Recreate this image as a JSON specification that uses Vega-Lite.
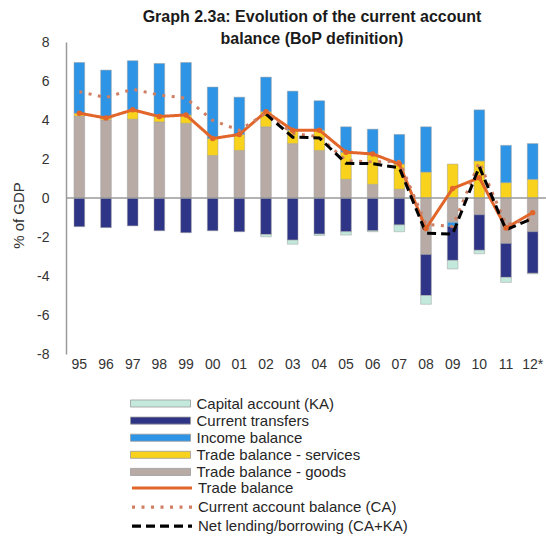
{
  "$schema": "https://vega.github.io/schema/vega-lite/v6.json",
  "autosize": {"type": "none"},
  "padding": {"left": 66, "top": 42, "right": 0, "bottom": 182},
  "width": 480,
  "height": 312,
  "background": "white",
  "config": {
    "font": "Liberation Sans",
    "view": {"stroke": null},
    "locale": {"number": {"decimal": ".", "thousands": ",", "grouping": [3], "currency": ["$", ""], "minus": "-"}},
    "axis": {"labelFont": "Liberation Sans", "titleFont": "Liberation Sans"},
    "legend": {"labelFont": "Liberation Sans"}
  },
  "title": {
    "text": ["Graph 2.3a: Evolution of the current account", "balance (BoP definition)"],
    "fontSize": 16,
    "fontWeight": "bold",
    "color": "#1a1a1a",
    "anchor": "middle",
    "frame": "group",
    "lineHeight": 22,
    "offset": -12,
    "dx": 6
  },
  "datasets": {
    "bars": [
      {"yr": "95", "series": "\u00a0\u00a0Trade balance - goods", "ord": 1, "value": 4.2},
      {"yr": "95", "series": "\u00a0\u00a0Trade balance - services", "ord": 2, "value": 0.15},
      {"yr": "95", "series": "Income balance", "ord": 3, "value": 2.6},
      {"yr": "95", "series": "Current transfers", "ord": 4, "value": -1.47},
      {"yr": "96", "series": "\u00a0\u00a0Trade balance - goods", "ord": 1, "value": 4.0},
      {"yr": "96", "series": "\u00a0\u00a0Trade balance - services", "ord": 2, "value": 0.1},
      {"yr": "96", "series": "Income balance", "ord": 3, "value": 2.46},
      {"yr": "96", "series": "Current transfers", "ord": 4, "value": -1.52},
      {"yr": "97", "series": "\u00a0\u00a0Trade balance - goods", "ord": 1, "value": 4.04},
      {"yr": "97", "series": "\u00a0\u00a0Trade balance - services", "ord": 2, "value": 0.48},
      {"yr": "97", "series": "Income balance", "ord": 3, "value": 2.52},
      {"yr": "97", "series": "Current transfers", "ord": 4, "value": -1.43},
      {"yr": "98", "series": "\u00a0\u00a0Trade balance - goods", "ord": 1, "value": 3.9},
      {"yr": "98", "series": "\u00a0\u00a0Trade balance - services", "ord": 2, "value": 0.28},
      {"yr": "98", "series": "Income balance", "ord": 3, "value": 2.72},
      {"yr": "98", "series": "Current transfers", "ord": 4, "value": -1.68},
      {"yr": "99", "series": "\u00a0\u00a0Trade balance - goods", "ord": 1, "value": 3.83},
      {"yr": "99", "series": "\u00a0\u00a0Trade balance - services", "ord": 2, "value": 0.43},
      {"yr": "99", "series": "Income balance", "ord": 3, "value": 2.69},
      {"yr": "99", "series": "Current transfers", "ord": 4, "value": -1.78},
      {"yr": "00", "series": "\u00a0\u00a0Trade balance - goods", "ord": 1, "value": 2.18},
      {"yr": "00", "series": "\u00a0\u00a0Trade balance - services", "ord": 2, "value": 0.87},
      {"yr": "00", "series": "Income balance", "ord": 3, "value": 2.64},
      {"yr": "00", "series": "Current transfers", "ord": 4, "value": -1.68},
      {"yr": "01", "series": "\u00a0\u00a0Trade balance - goods", "ord": 1, "value": 2.44},
      {"yr": "01", "series": "\u00a0\u00a0Trade balance - services", "ord": 2, "value": 0.82},
      {"yr": "01", "series": "Income balance", "ord": 3, "value": 1.91},
      {"yr": "01", "series": "Current transfers", "ord": 4, "value": -1.73},
      {"yr": "02", "series": "\u00a0\u00a0Trade balance - goods", "ord": 1, "value": 3.65},
      {"yr": "02", "series": "\u00a0\u00a0Trade balance - services", "ord": 2, "value": 0.78},
      {"yr": "02", "series": "Income balance", "ord": 3, "value": 1.77},
      {"yr": "02", "series": "Current transfers", "ord": 4, "value": -1.87},
      {"yr": "02", "series": "Capital account (KA)", "ord": 5, "value": -0.12},
      {"yr": "03", "series": "\u00a0\u00a0Trade balance - goods", "ord": 1, "value": 2.79},
      {"yr": "03", "series": "\u00a0\u00a0Trade balance - services", "ord": 2, "value": 0.69},
      {"yr": "03", "series": "Income balance", "ord": 3, "value": 2.0},
      {"yr": "03", "series": "Current transfers", "ord": 4, "value": -2.16},
      {"yr": "03", "series": "Capital account (KA)", "ord": 5, "value": -0.21},
      {"yr": "04", "series": "\u00a0\u00a0Trade balance - goods", "ord": 1, "value": 2.44},
      {"yr": "04", "series": "\u00a0\u00a0Trade balance - services", "ord": 2, "value": 1.04},
      {"yr": "04", "series": "Income balance", "ord": 3, "value": 1.51},
      {"yr": "04", "series": "Current transfers", "ord": 4, "value": -1.85},
      {"yr": "04", "series": "Capital account (KA)", "ord": 5, "value": -0.07},
      {"yr": "05", "series": "\u00a0\u00a0Trade balance - goods", "ord": 1, "value": 0.96},
      {"yr": "05", "series": "\u00a0\u00a0Trade balance - services", "ord": 2, "value": 1.39},
      {"yr": "05", "series": "Income balance", "ord": 3, "value": 1.3},
      {"yr": "05", "series": "Current transfers", "ord": 4, "value": -1.73},
      {"yr": "05", "series": "Capital account (KA)", "ord": 5, "value": -0.17},
      {"yr": "06", "series": "\u00a0\u00a0Trade balance - goods", "ord": 1, "value": 0.7},
      {"yr": "06", "series": "\u00a0\u00a0Trade balance - services", "ord": 2, "value": 1.56},
      {"yr": "06", "series": "Income balance", "ord": 3, "value": 1.27},
      {"yr": "06", "series": "Current transfers", "ord": 4, "value": -1.68},
      {"yr": "06", "series": "Capital account (KA)", "ord": 5, "value": -0.05},
      {"yr": "07", "series": "\u00a0\u00a0Trade balance - goods", "ord": 1, "value": 0.45},
      {"yr": "07", "series": "\u00a0\u00a0Trade balance - services", "ord": 2, "value": 1.29},
      {"yr": "07", "series": "Income balance", "ord": 3, "value": 1.52},
      {"yr": "07", "series": "Current transfers", "ord": 4, "value": -1.38},
      {"yr": "07", "series": "Capital account (KA)", "ord": 5, "value": -0.35},
      {"yr": "08", "series": "\u00a0\u00a0Trade balance - goods", "ord": 1, "value": -2.9},
      {"yr": "08", "series": "\u00a0\u00a0Trade balance - services", "ord": 2, "value": 1.33},
      {"yr": "08", "series": "Income balance", "ord": 3, "value": 2.32},
      {"yr": "08", "series": "Current transfers", "ord": 4, "value": -2.1},
      {"yr": "08", "series": "Capital account (KA)", "ord": 5, "value": -0.45},
      {"yr": "09", "series": "\u00a0\u00a0Trade balance - goods", "ord": 1, "value": -1.25},
      {"yr": "09", "series": "\u00a0\u00a0Trade balance - services", "ord": 2, "value": 1.74},
      {"yr": "09", "series": "Income balance", "ord": 3, "value": -0.2},
      {"yr": "09", "series": "Current transfers", "ord": 4, "value": -1.75},
      {"yr": "09", "series": "Capital account (KA)", "ord": 5, "value": -0.44},
      {"yr": "10", "series": "\u00a0\u00a0Trade balance - goods", "ord": 1, "value": -0.86},
      {"yr": "10", "series": "\u00a0\u00a0Trade balance - services", "ord": 2, "value": 1.9},
      {"yr": "10", "series": "Income balance", "ord": 3, "value": 2.62},
      {"yr": "10", "series": "Current transfers", "ord": 4, "value": -1.82},
      {"yr": "10", "series": "Capital account (KA)", "ord": 5, "value": -0.18},
      {"yr": "11", "series": "\u00a0\u00a0Trade balance - goods", "ord": 1, "value": -2.33},
      {"yr": "11", "series": "\u00a0\u00a0Trade balance - services", "ord": 2, "value": 0.79},
      {"yr": "11", "series": "Income balance", "ord": 3, "value": 1.91},
      {"yr": "11", "series": "Current transfers", "ord": 4, "value": -1.74},
      {"yr": "11", "series": "Capital account (KA)", "ord": 5, "value": -0.26},
      {"yr": "12*", "series": "\u00a0\u00a0Trade balance - goods", "ord": 1, "value": -1.73},
      {"yr": "12*", "series": "\u00a0\u00a0Trade balance - services", "ord": 2, "value": 0.96},
      {"yr": "12*", "series": "Income balance", "ord": 3, "value": 1.83},
      {"yr": "12*", "series": "Current transfers", "ord": 4, "value": -2.13},
      {"yr": "12*", "series": "Capital account (KA)", "ord": 5, "value": -0.03}
    ],
    "lines": [
      {"yr": "95", "series": "Trade balance", "value": 4.35},
      {"yr": "96", "series": "Trade balance", "value": 4.1},
      {"yr": "97", "series": "Trade balance", "value": 4.52},
      {"yr": "98", "series": "Trade balance", "value": 4.18},
      {"yr": "99", "series": "Trade balance", "value": 4.26},
      {"yr": "00", "series": "Trade balance", "value": 3.05},
      {"yr": "01", "series": "Trade balance", "value": 3.26},
      {"yr": "02", "series": "Trade balance", "value": 4.43},
      {"yr": "03", "series": "Trade balance", "value": 3.48},
      {"yr": "04", "series": "Trade balance", "value": 3.48},
      {"yr": "05", "series": "Trade balance", "value": 2.35},
      {"yr": "06", "series": "Trade balance", "value": 2.26},
      {"yr": "07", "series": "Trade balance", "value": 1.74},
      {"yr": "08", "series": "Trade balance", "value": -1.57},
      {"yr": "09", "series": "Trade balance", "value": 0.49},
      {"yr": "10", "series": "Trade balance", "value": 1.04},
      {"yr": "11", "series": "Trade balance", "value": -1.54},
      {"yr": "12*", "series": "Trade balance", "value": -0.75},
      {"yr": "95", "series": "Current account balance (CA)", "value": 5.45},
      {"yr": "96", "series": "Current account balance (CA)", "value": 5.15},
      {"yr": "97", "series": "Current account balance (CA)", "value": 5.58},
      {"yr": "98", "series": "Current account balance (CA)", "value": 5.28},
      {"yr": "99", "series": "Current account balance (CA)", "value": 5.12},
      {"yr": "00", "series": "Current account balance (CA)", "value": 3.98},
      {"yr": "01", "series": "Current account balance (CA)", "value": 3.47},
      {"yr": "02", "series": "Current account balance (CA)", "value": 4.35},
      {"yr": "03", "series": "Current account balance (CA)", "value": 3.32},
      {"yr": "04", "series": "Current account balance (CA)", "value": 3.14},
      {"yr": "05", "series": "Current account balance (CA)", "value": 1.92},
      {"yr": "06", "series": "Current account balance (CA)", "value": 1.85},
      {"yr": "07", "series": "Current account balance (CA)", "value": 1.88},
      {"yr": "08", "series": "Current account balance (CA)", "value": -1.35},
      {"yr": "09", "series": "Current account balance (CA)", "value": -1.46},
      {"yr": "10", "series": "Current account balance (CA)", "value": 1.84},
      {"yr": "11", "series": "Current account balance (CA)", "value": -1.37},
      {"yr": "12*", "series": "Current account balance (CA)", "value": -1.05},
      {"yr": "02", "series": "Net lending/borrowing (CA+KA)", "value": 4.3},
      {"yr": "03", "series": "Net lending/borrowing (CA+KA)", "value": 3.12},
      {"yr": "04", "series": "Net lending/borrowing (CA+KA)", "value": 3.08},
      {"yr": "05", "series": "Net lending/borrowing (CA+KA)", "value": 1.78},
      {"yr": "06", "series": "Net lending/borrowing (CA+KA)", "value": 1.76},
      {"yr": "07", "series": "Net lending/borrowing (CA+KA)", "value": 1.55},
      {"yr": "08", "series": "Net lending/borrowing (CA+KA)", "value": -1.8},
      {"yr": "09", "series": "Net lending/borrowing (CA+KA)", "value": -1.85},
      {"yr": "10", "series": "Net lending/borrowing (CA+KA)", "value": 1.6},
      {"yr": "11", "series": "Net lending/borrowing (CA+KA)", "value": -1.63},
      {"yr": "12*", "series": "Net lending/borrowing (CA+KA)", "value": -1.05}
    ]
  },
  "layer": [
    {
      "data": {"name": "bars"},
      "mark": {"type": "bar", "stroke": "#a0a0a0", "strokeWidth": 0.7, "strokeOpacity": 0.7},
      "encoding": {
        "x": {
          "field": "yr", "type": "nominal", "title": null,
          "scale": {"type": "band", "domain": ["95","96","97","98","99","00","01","02","03","04","05","06","07","08","09","10","11","12*"], "paddingInner": 0.6, "paddingOuter": 0.3},
          "axis": {"orient": "bottom", "domain": false, "ticks": false, "labelAngle": 0, "labelFontSize": 14, "labelColor": "#333333", "labelPadding": 3}
        },
        "y": {
          "field": "value", "type": "quantitative", "stack": "zero", "title": "% of GDP",
          "scale": {"domain": [-8, 8], "nice": false},
          "axis": {"values": [-8,-6,-4,-2,0,2,4,6,8], "tickCount": 20, "labelOverlap": false, "grid": false, "ticks": false, "domainColor": "#9a9a9a", "domainWidth": 1.5, "labelFontSize": 14, "labelColor": "#333333", "labelPadding": 17, "titleFontSize": 15, "titleFontWeight": "normal", "titleColor": "#333333", "titleX": -48, "titleY": 173, "titleAngle": 270, "titleAlign": "center", "titleBaseline": "middle"}
        },
        "order": {"field": "ord", "type": "quantitative"},
        "fill": {
          "field": "series", "type": "nominal",
          "scale": {
            "domain": ["Capital account (KA)", "Current transfers", "Income balance", "\u00a0\u00a0Trade balance - services", "\u00a0\u00a0Trade balance - goods"],
            "range": ["#c3e9dd", "#2f3586", "#2e95e6", "#f8d21c", "#b8aba6"]
          },
          "legend": {
            "orient": "none", "legendX": 86.5, "legendY": 353.5, "title": null, "padding": 0,
            "symbolSize": 225, "symbolType": "M-4,-0.47H4V0.47H-4Z",
            "symbolStrokeColor": "#9a9a9a", "symbolStrokeWidth": 0.8,
            "labelFontSize": 15, "labelColor": "#262626", "labelOffset": 28, "rowPadding": 1.1, "labelLimit": 400
          }
        }
      }
    },
    {
      "data": {"values": [{"z": 0}]},
      "mark": {"type": "rule", "color": "#9a9a9a", "strokeWidth": 1.5},
      "encoding": {"y": {"field": "z", "type": "quantitative", "title": "% of GDP"}}
    },
    {
      "data": {"name": "lines"},
      "mark": {"type": "line", "strokeWidth": 3},
      "encoding": {
        "x": {"field": "yr", "type": "nominal", "title": null, "scale": {"type": "band", "domain": ["95","96","97","98","99","00","01","02","03","04","05","06","07","08","09","10","11","12*"], "paddingInner": 0.6, "paddingOuter": 0.3}},
        "y": {"field": "value", "type": "quantitative", "title": "% of GDP"},
        "stroke": {
          "field": "series", "type": "nominal",
          "scale": {"domain": ["Trade balance", "Current account balance (CA)", "Net lending/borrowing (CA+KA)"], "range": ["#e2662a", "#cf7e62", "#000000"]},
          "legend": {
            "orient": "none", "legendX": 86.5, "legendY": 436.5, "title": null, "padding": 0,
            "symbolSize": 225, "symbolType": "M-4,0H4", "symbolStrokeWidth": 3.2,
            "labelFontSize": 15, "labelColor": "#262626", "labelOffset": 26.5, "rowPadding": 1.1, "labelLimit": 400
          }
        },
        "strokeDash": {
          "field": "series", "type": "nominal",
          "scale": {"domain": ["Trade balance", "Current account balance (CA)", "Net lending/borrowing (CA+KA)"], "range": [[1, 0], [3, 6.5], [9, 5]]},
          "legend": {
            "orient": "none", "legendX": 86.5, "legendY": 436.5, "title": null, "padding": 0,
            "symbolSize": 225, "symbolType": "M-4,0H4", "symbolStrokeWidth": 3.2,
            "labelFontSize": 15, "labelColor": "#262626", "labelOffset": 26.5, "rowPadding": 1.1, "labelLimit": 400
          }
        }
      }
    },
    {
      "data": {"name": "lines"},
      "transform": [{"filter": "datum.series === 'Trade balance'"}],
      "mark": {"type": "point", "filled": true, "fill": "#e2662a", "stroke": null, "size": 30, "opacity": 1},
      "encoding": {
        "x": {"field": "yr", "type": "nominal", "title": null, "scale": {"type": "band", "domain": ["95","96","97","98","99","00","01","02","03","04","05","06","07","08","09","10","11","12*"], "paddingInner": 0.6, "paddingOuter": 0.3}},
        "y": {"field": "value", "type": "quantitative", "title": "% of GDP"}
      }
    }
  ]
}
